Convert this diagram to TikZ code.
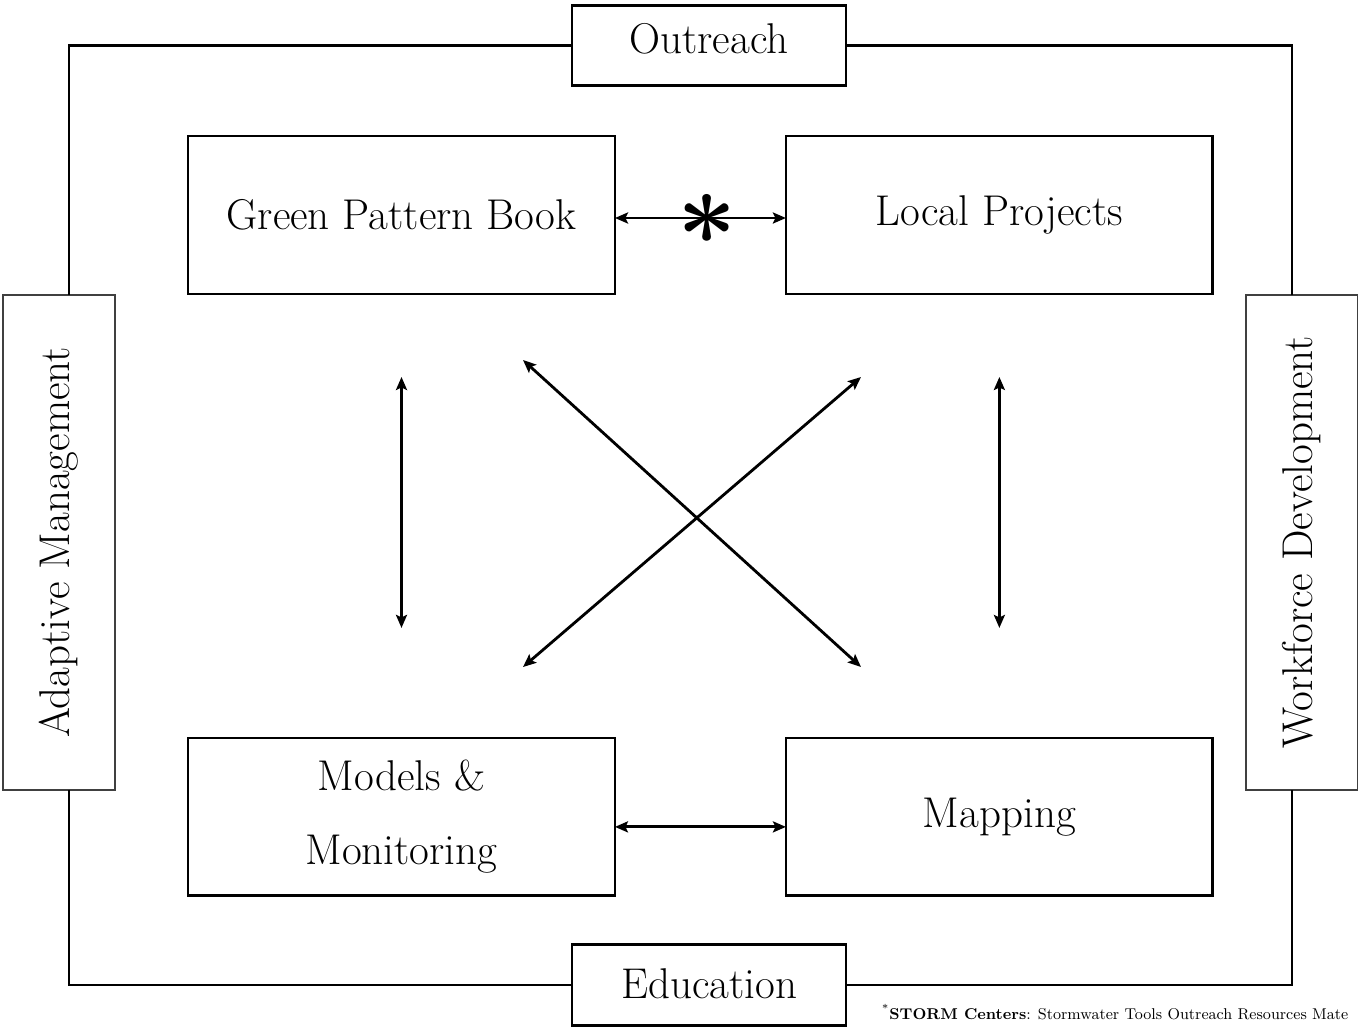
\documentclass[tikz,border=0pt]{standalone}
\usetikzlibrary{arrows.meta,positioning}

\begin{document}
\begin{tikzpicture}[x=0.02cm,y=-0.02cm,every node/.style={outer sep=0pt},
 box/.style={draw,line width=1.6pt,fill=white,minimum width=8.54cm,minimum height=3.16cm,
  font=\fontsize{24.5}{29}\selectfont},
 tagbox/.style={draw,line width=1.6pt,fill=white,minimum width=5.48cm,minimum height=1.61cm,
  font=\fontsize{24.5}{29}\selectfont},
 sidebox/.style={draw=black!75,line width=0.7pt,fill=white,rotate=90,minimum width=9.9cm,
  minimum height=2.24cm,font=\fontsize{24.5}{29}\selectfont},
 frame/.style={line width=1.6pt},
 link/.style={line width=1.6pt,
  {Stealth[length=0.26cm,width=0.22cm,inset=0.05cm]}-{Stealth[length=0.26cm,width=0.22cm,inset=0.05cm]}}]

  \useasboundingbox (0,0) rectangle (1358,1029);

  % outer ring of themes
  \node[tagbox] (outreach) at (709,45.5) {\raisebox{0.3cm}{Outreach}};
  \node[tagbox] (education) at (709,985) {\raisebox{0.05cm}{Education}};
  \node[sidebox] (adaptive) at (59,542.5) {Adaptive Management};
  \node[sidebox] (workforce) at (1302,542.5) {Workforce Development};

  \draw[frame] (outreach.west) -| ([xshift=0.2cm]adaptive.east);
  \draw[frame] ([xshift=0.2cm]adaptive.west) |- (education.west);
  \draw[frame] (education.east) -| ([xshift=-0.2cm]workforce.west);
  \draw[frame] ([xshift=-0.2cm]workforce.east) |- (outreach.east);

  % the four centres
  \node[box] (gpb) at (401.5,215) {Green Pattern Book};
  \node[box,right=3.42cm of gpb] (local) {Local Projects};
  \node[box,below=8.88cm of gpb,align=center,font=\fontsize{24.5}{42}\selectfont]
   (models) {Models \&\\Monitoring};
  \node[box,below=8.88cm of local] (mapping) {Mapping};

  \draw[link] ([yshift=-0.06cm]gpb.east) -- ([yshift=-0.06cm]local.west)
   node[midway,xshift=0.14cm,yshift=-0.32cm,font=\fontsize{60}{60}\selectfont\bfseries] (star) {*};
  \draw[link] ([yshift=-0.2cm]models.east) -- ([yshift=-0.2cm]mapping.west);

  \draw[link,shorten <=1.66cm,shorten >=2.2cm] (gpb.south) -- (models.north);
  \draw[link,shorten <=1.66cm,shorten >=2.2cm] (local.south) -- (mapping.north);

  \coordinate (d1a) at (523,360);
  \coordinate (d1b) at (861,667);
  \coordinate (d2a) at (861,377);
  \coordinate (d2b) at (523,667);
  \draw[link] (d1a) -- (d1b);
  \draw[link] (d2a) -- (d2b);

  \node[anchor=base west,font=\fontsize{8.9}{11}\selectfont] (note) at (876,1019)
   {\textsuperscript{*}\textbf{STORM Centers}: Stormwater Tools Outreach Resources Mate};

\end{tikzpicture}
\end{document}
